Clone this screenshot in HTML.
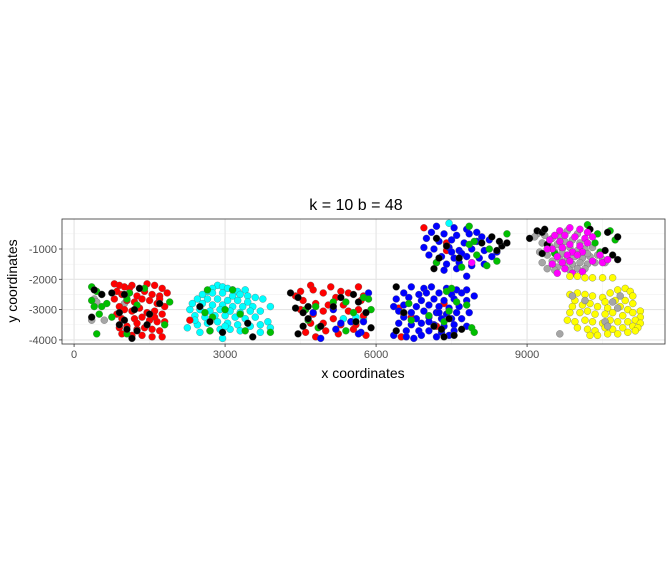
<!DOCTYPE html>
<html><head><meta charset="utf-8"><style>
body{margin:0;background:#fff;}
svg{display:block;font-family:"Liberation Sans",Arial,sans-serif;}
</style></head><body>
<svg id="chart" width="672" height="576" viewBox="0 0 672 576">
<text x="356" y="210" font-size="16" text-anchor="middle" fill="#000">k = 10 b = 48</text>
<text x="363" y="378" font-size="14" text-anchor="middle" fill="#000">x coordinates</text>
<text transform="translate(17,281) rotate(-90)" font-size="14" text-anchor="middle" fill="#000">y coordinates</text>
<g id="grid"></g>
<g id="pts"></g>
<rect x="62" y="219" width="603" height="125" fill="none" stroke="#333" stroke-width="0.8"/>
<g id="axes"></g>
</svg>
<script>
const xTicks=[0,3000,6000,9000];
const yTicks=[-1000,-2000,-3000,-4000];
const xMinor=[1500,4500,7500,10500];
const yMinor=[-500,-1500,-2500,-3500];
const red=[[800,-2150],[900,-2200],[1000,-2250],[1150,-2200],[1300,-2300],[1450,-2150],[1600,-2200],[1750,-2300],[1850,-2450],[850,-2400],[950,-2500],[1100,-2450],[1250,-2550],[1400,-2400],[1550,-2500],[1700,-2550],[800,-2650],[1050,-2700],[1200,-2750],[1350,-2650],[1500,-2700],[1650,-2800],[1800,-2900],[900,-2900],[1000,-3000],[1150,-3050],[1300,-2950],[1450,-3100],[1600,-3050],[1750,-3150],[850,-3150],[950,-3300],[1200,-3300],[1350,-3250],[1500,-3350],[1650,-3400],[1800,-3400],[900,-3600],[1050,-3550],[1250,-3650],[1400,-3600],[1550,-3650],[1700,-3700],[1750,-3900],[950,-3800],[1150,-3850],[1350,-3850],[1550,-3900],[1100,-2300],[1700,-2650],[1250,-3450],[1600,-3250],[2300,-3350],
[4500,-2400],[4700,-2200],[4750,-2350],[5100,-2250],[4950,-2450],[5200,-2600],[5300,-2400],[5450,-2450],[5650,-2250],[5750,-2550],[4550,-2700],[4800,-2800],[5050,-2850],[5350,-2850],[5700,-2700],[4500,-3000],[4750,-3150],[4950,-3050],[5150,-3300],[5450,-3050],[5650,-3000],[4700,-3450],[4950,-3450],[5300,-3500],[5500,-3400],[5750,-3200],[4600,-3750],[4800,-3900],[5000,-3700],[5250,-3800],[5550,-3650],[5800,-3850],[4400,-2550],[5600,-3500],
[6450,-2950],[6550,-3150],[6700,-3250],[7200,-3550],[7350,-2800],[6500,-3900],[6950,-300],[7400,-800],[7400,-1050]];
const cyan=[[2850,-2200],[2950,-2250],[3050,-2300],[2750,-2300],[2650,-2400],[3150,-2350],[3250,-2400],[3400,-2350],[2550,-2500],[2750,-2450],[2950,-2450],[3150,-2550],[3300,-2500],[3450,-2550],[3600,-2600],[2450,-2650],[2650,-2650],[2850,-2650],[3050,-2700],[3250,-2700],[3450,-2750],[3750,-2650],[2350,-2800],[2550,-2800],[2750,-2850],[2950,-2850],[3150,-2900],[3350,-2900],[3550,-2900],[3900,-2900],[2300,-3000],[2500,-3000],[2700,-3050],[2900,-3000],[3100,-3050],[3300,-3100],[3500,-3050],[3700,-3050],[2400,-3200],[2600,-3250],[2800,-3200],[3000,-3200],[3200,-3250],[3400,-3300],[3600,-3250],[3850,-3400],[2250,-3600],[2450,-3500],[2650,-3450],[2850,-3400],[3050,-3450],[3250,-3500],[3500,-3550],[3700,-3500],[3900,-3600],[2500,-3750],[2700,-3700],[2900,-3650],[3100,-3650],[3300,-3700],[3700,-3750],[2950,-3950],[2400,-3350],[3000,-3550],[5350,-3300],[5600,-3250],[5750,-3300],[7450,-150]];
const blue=[[4750,-3100],[5150,-3000],[5300,-3450],[5200,-3650],[5500,-3400],[5750,-3400],[5700,-3750],[5850,-2450],[4900,-3950],[5650,-3800],
[6700,-2250],[6950,-2300],[7100,-2250],[7400,-2300],[7600,-2350],[7800,-2350],[6550,-2450],[6850,-2500],[7000,-2450],[7250,-2450],[7500,-2500],[7700,-2450],[7950,-2550],[6400,-2650],[6650,-2600],[6900,-2700],[7150,-2650],[7350,-2700],[7550,-2650],[7800,-2700],[6350,-2900],[6550,-2850],[6800,-2900],[7050,-2850],[7250,-2900],[7450,-2950],[7650,-2900],[6450,-3050],[6700,-3100],[6950,-3050],[7200,-3100],[7400,-3150],[7600,-3100],[7850,-3100],[6550,-3250],[6800,-3300],[7050,-3250],[7300,-3300],[7500,-3300],[7700,-3300],[6450,-3450],[6700,-3500],[6900,-3450],[7150,-3500],[7350,-3550],[7550,-3500],[7800,-3550],[6600,-3700],[6850,-3700],[7050,-3700],[7300,-3750],[7550,-3700],[6350,-3850],[6600,-3900],[6900,-3850],[7200,-3900],[7450,-3850],[6750,-3950],[7050,-3400],[7250,-3100],
[7200,-250],[7550,-300],[7800,-350],[7100,-450],[7350,-500],[7600,-550],[7850,-500],[8100,-600],[7000,-650],[7250,-750],[7500,-700],[7750,-800],[8000,-750],[8250,-700],[6950,-950],[7150,-1000],[7450,-950],[7650,-1050],[7900,-1000],[8150,-1050],[8400,-1100],[7050,-1200],[7300,-1250],[7550,-1300],[7800,-1250],[8050,-1300],[8300,-1250],[7200,-1450],[7400,-1500],[7650,-1450],[7900,-1550],[8150,-1500],[7350,-1700],[7600,-1650],[7800,-1900],[7500,-1100],[8000,-450],[7700,-1150]];
const black=[[400,-2350],[550,-2500],[750,-2450],[1000,-2500],[1300,-2300],[1700,-2800],[900,-3100],[1200,-3000],[350,-3250],[1000,-3350],[1500,-3150],[1050,-3650],[1250,-3700],[1150,-3950],[900,-3500],[1450,-3500],
[2500,-2900],[2700,-3400],[2950,-3750],[3450,-3450],[3550,-3900],
[4300,-2450],[4450,-2600],[4400,-2950],[4650,-2900],[4550,-3100],[4650,-3300],[4550,-3550],[4450,-3800],[5300,-2600],[5150,-2900],[5550,-2500],[5650,-2750],[5800,-3100],[5600,-3400],[5900,-3600],[4900,-3550],
[6400,-2250],[6550,-3100],[7150,-3550],[7300,-3650],[7450,-3300],[7550,-3850],[7700,-3650],[6400,-3700],[7350,-3900],
[7200,-650],[7400,-900],[7250,-1300],[7650,-1300],[8300,-600],[8500,-900],[8600,-800],[8400,-1050],[8100,-800],[7150,-1650],[8450,-750],
[9200,-400],[9050,-650],[9300,-450],[9400,-850],[9350,-350],[10250,-350],[10600,-450],[10800,-600],[10550,-1050],[10700,-1200],[10800,-1350],[9300,-1150]];
const green=[[350,-2250],[450,-2400],[550,-2500],[350,-2700],[400,-2900],[550,-2900],[650,-2800],[750,-3250],[500,-3150],[1100,-2450],[1050,-2650],[1400,-2300],[1250,-2850],[1900,-2750],[1800,-3500],[1050,-3800],[450,-3800],
[2650,-2350],[3150,-2350],[2600,-3100],[2750,-3250],[3000,-3000],[2700,-3700],[3300,-3150],[3400,-3700],[3900,-3750],
[4600,-3000],[4650,-3350],[4800,-2900],[4850,-3600],[5150,-2750],[5400,-2750],[5550,-3100],[5750,-2600],[5900,-3000],[5850,-2650],[5400,-3700],
[6650,-2800],[6700,-3350],[7050,-3200],[7400,-2400],[7500,-2300],[7450,-3050],[7350,-3400],[7800,-2850],[7900,-3600],[7950,-3750],[7600,-2750],
[7850,-250],[7950,-750],[7200,-1450],[7700,-1600],[8000,-1200],[8250,-1000],[8400,-1400],[8600,-500],[8200,-1550],[7850,-850],
[10200,-200],[10400,-500],[10650,-400],[10350,-800],[10750,-700],[10450,-1100],[9550,-1150]];
const grey=[[400,-2650],[450,-2750],[350,-3350],[600,-3350],[1000,-2800],
[9200,-500],[9350,-550],[9500,-650],[9650,-600],[9300,-800],[9450,-900],[9600,-850],[9750,-750],[9900,-700],[10050,-800],[9250,-1100],[9400,-1200],[9550,-1100],[9700,-1000],[9850,-950],[10000,-1050],[10150,-1000],[10300,-950],[9300,-1450],[9500,-1400],[9650,-1350],[9800,-1300],[9950,-1250],[10100,-1300],[10250,-1250],[10400,-1200],[10500,-1350],[9400,-1650],[9600,-1600],[9750,-1550],[9900,-1500],[10050,-1450],[10200,-1500],[10350,-1450],[9550,-1700],[9850,-1700],[10000,-1650],[10150,-1650],[9700,-1150],[10200,-1150],[10550,-1450],[9800,-400],[10000,-500],[9150,-600]];
const magenta=[[9650,-400],[9850,-300],[10050,-350],[10200,-450],[9550,-550],[9750,-550],[9950,-600],[10150,-650],[10300,-600],[9450,-700],[9650,-750],[9850,-850],[10050,-900],[10200,-800],[9500,-1000],[9700,-950],[9900,-1100],[10100,-1100],[9400,-1000],[9600,-1250],[9800,-1200],[10000,-1200],[9500,-1500],[9700,-1450],[9850,-1400],[10300,-1400],[10500,-1450],[10600,-1350],[9750,-1650],[9900,-1800],[10100,-1750],[9600,-1800],[10450,-1200],[7900,-1450]];
const yellow=[[9850,-1900],[10000,-1900],[10150,-1950],[10300,-1950],[10500,-1950],[10700,-1950],
[9850,-2500],[10000,-2450],[10150,-2500],[10300,-2550],[10500,-2600],[10650,-2450],[10800,-2350],[10950,-2300],[11050,-2400],[11100,-2550],[10550,-2750],[10750,-2700],[10950,-2700],[11100,-2800],[9950,-2700],[9900,-2900],[10100,-2850],[10250,-2800],[10400,-2900],[10600,-2950],[10850,-2900],[11000,-3000],[9850,-3100],[10050,-3100],[10200,-3050],[10350,-3150],[10550,-3150],[10700,-3100],[10900,-3200],[11100,-3100],[11250,-3050],[11250,-3250],[9800,-3350],[9950,-3400],[10150,-3350],[10300,-3400],[10500,-3450],[10650,-3350],[10800,-3400],[11000,-3400],[11150,-3350],[11250,-3450],[10000,-3600],[10200,-3650],[10350,-3700],[10550,-3600],[10700,-3650],[10900,-3600],[11100,-3550],[11200,-3600],[10250,-3850],[10400,-3850],[10600,-3800],[10800,-3800],[11000,-3750],[11150,-3700]];
const grey2=[[9900,-2550],[10150,-2700],[10700,-2750],[10850,-2550],[10800,-2950],[10550,-3400],[10600,-3550],[9650,-3800]];

const X0=62,X1=665,Y0=219,Y1=344,xMin=-240,xMax=11740,yMin=-4135,yMax=-10;
function sx(v){return X0+(v-xMin)/(xMax-xMin)*(X1-X0);}
function sy(v){return Y1-(v-yMin)/(yMax-yMin)*(Y1-Y0);}
const NS='http://www.w3.org/2000/svg';
function mk(tag,attrs,parent){const e=document.createElementNS(NS,tag);for(const k in attrs)e.setAttribute(k,attrs[k]);parent.appendChild(e);return e;}
const grid=document.getElementById('grid');
mk('rect',{x:X0,y:Y0,width:X1-X0,height:Y1-Y0,fill:'#fff'},grid);
xMinor.forEach(v=>{const l=mk('line',{x1:sx(v),x2:sx(v),y1:Y0,y2:Y1,stroke:'#f2f2f2','stroke-width':0.6},grid);

});
yMinor.forEach(v=>{const l=mk('line',{x1:X0,x2:X1,y1:sy(v),y2:sy(v),stroke:'#f2f2f2','stroke-width':0.6},grid);

});
const axes=document.getElementById('axes');
xTicks.forEach(v=>{const l=mk('line',{x1:sx(v),x2:sx(v),y1:Y0,y2:Y1,stroke:'#e5e5e5','stroke-width':1.1},grid);


mk('line',{x1:sx(v),x2:sx(v),y1:Y1,y2:Y1+3,stroke:'#333','stroke-width':0.8},axes);
const t=mk('text',{x:sx(v),y:Y1+14,'font-size':11,'text-anchor':'middle',fill:'#4d4d4d'},axes);t.textContent=v;

});
yTicks.forEach(v=>{const l=mk('line',{x1:X0,x2:X1,y1:sy(v),y2:sy(v),stroke:'#e5e5e5','stroke-width':1.1},grid);


mk('line',{x1:X0-3,x2:X0,y1:sy(v),y2:sy(v),stroke:'#333','stroke-width':0.8},axes);
const t=mk('text',{x:X0-5,y:sy(v)+4,'font-size':11,'text-anchor':'end',fill:'#4d4d4d'},axes);t.textContent=v;

});
const pts=document.getElementById('pts');
const series=[[grey,'#a6a6a6'],[cyan,'#00ffff'],[red,'#ff0000'],[blue,'#0000ff'],[green,'#00bf00'],[black,'#000000'],[magenta,'#ff00ff'],[yellow,'#ffff00'],[grey2,'#a6a6a6']];
series.forEach(([arr,col])=>{arr.forEach(p=>{const c=mk('circle',{cx:sx(p[0]),cy:sy(p[1]),r:3.5,fill:col,stroke:'#555','stroke-width':0.3},pts);

});});
</script>
</body></html>
